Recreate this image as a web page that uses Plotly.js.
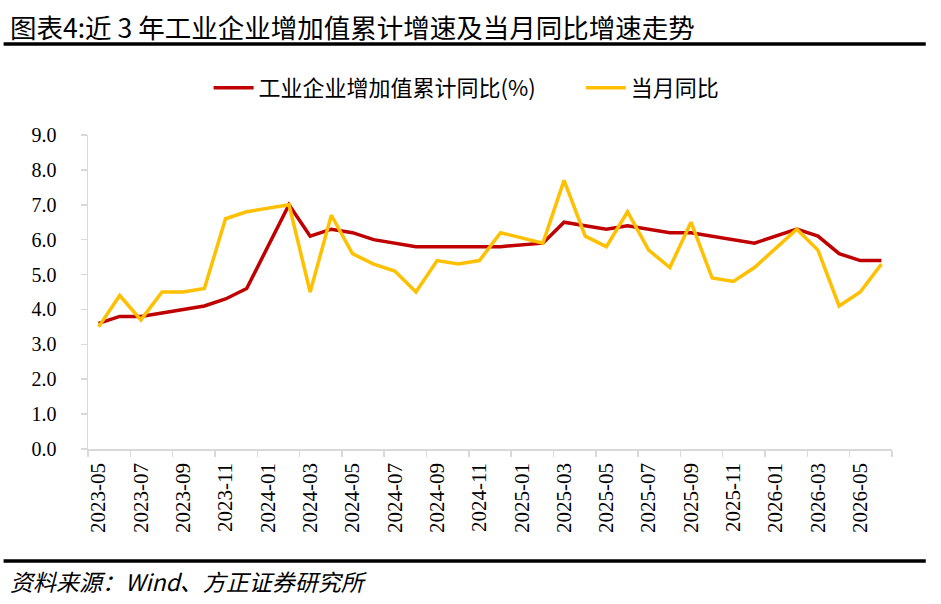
<!DOCTYPE html>
<html>
<head>
<meta charset="utf-8">
<script src="https://cdn.plot.ly/plotly-3.0.1.min.js"></script>
<style>
  html, body { margin: 0; padding: 0; background: #fff; }
  #chart { width: 941px; height: 604px; }
</style>
</head>
<body>
<div id="chart"></div>
<script>
// 月份 (1月数据缺失, 与2月合并公布)
let months = [
  "2023-05", "2023-06", "2023-07", "2023-08", "2023-09", "2023-10", "2023-11", "2023-12",
  "2024-01", "2024-02", "2024-03", "2024-04", "2024-05", "2024-06", "2024-07", "2024-08",
  "2024-09", "2024-10", "2024-11", "2024-12", "2025-01", "2025-02", "2025-03", "2025-04",
  "2025-05", "2025-06", "2025-07", "2025-08", "2025-09", "2025-10", "2025-11", "2025-12",
  "2026-01", "2026-02", "2026-03", "2026-04", "2026-05", "2026-06"
];

let cumulative = [
  3.6, 3.8, 3.8, 3.9, 4.0, 4.1, 4.3, 4.6,
  null, 7.0, 6.1, 6.3, 6.2, 6.0, 5.9, 5.8,
  5.8, 5.8, 5.8, 5.8, null, 5.9, 6.5, 6.4,
  6.3, 6.4, 6.3, 6.2, 6.2, 6.1, 6.0, 5.9,
  null, 6.3, 6.1, 5.6, 5.4, 5.4
];

let monthly = [
  3.5, 4.4, 3.7, 4.5, 4.5, 4.6, 6.6, 6.8,
  null, 7.0, 4.5, 6.7, 5.6, 5.3, 5.1, 4.5,
  5.4, 5.3, 5.4, 6.2, null, 5.9, 7.7, 6.1,
  5.8, 6.8, 5.7, 5.2, 6.5, 4.9, 4.8, 5.2,
  null, 6.3, 5.7, 4.1, 4.5, 5.3
];

let axis_color = "#d9d9d9";
let serif = "'Liberation Serif', 'Times New Roman', serif";
let cjk = "'Noto Sans CJK SC', sans-serif";

let first = {
  x: months,
  y: cumulative,
  mode: 'lines',
  connectgaps: true,
  name: '工业企业增加值累计同比(%)',
  line: {color: '#c00000', width: 3.5},
  legend: 'legend',
  hoverinfo: 'skip'
};

let second = {
  x: months,
  y: monthly,
  mode: 'lines',
  connectgaps: true,
  name: '当月同比',
  line: {color: '#ffc000', width: 3.5},
  legend: 'legend2',
  hoverinfo: 'skip'
};

let legend_font = {family: cjk, size: 22, color: '#000'};

let layout = {
  width: 941,
  height: 604,
  margin: {l: 88, r: 49, t: 135, b: 155, pad: 0},
  paper_bgcolor: '#fff',
  plot_bgcolor: '#fff',
  showlegend: true,
  legend: {
    orientation: 'h',
    x: 0.15,
    xanchor: 'left',
    y: 1.15,
    yanchor: 'middle',
    font: legend_font,
    itemwidth: 40
  },
  legend2: {
    orientation: 'h',
    x: 0.613,
    xanchor: 'left',
    y: 1.15,
    yanchor: 'middle',
    font: legend_font,
    itemwidth: 40
  },
  xaxis: {
    type: 'category',
    range: [-0.5, 37.5],
    tickson: 'boundaries',
    dtick: 2,
    tickangle: -90,
    ticks: 'outside',
    ticklen: 6,
    tickcolor: axis_color,
    tickwidth: 1.5,
    ticklabelstandoff: 4,
    showline: true,
    linecolor: axis_color,
    linewidth: 1.5,
    showgrid: false,
    zeroline: false,
    tickfont: {family: serif, size: 21, color: '#000'}
  },
  yaxis: {
    range: [0, 9],
    dtick: 1,
    tickformat: '.1f',
    ticks: 'outside',
    ticklen: 6,
    tickcolor: axis_color,
    tickwidth: 1.5,
    ticklabelstandoff: 20,
    showline: true,
    linecolor: axis_color,
    linewidth: 1.5,
    showgrid: false,
    zeroline: false,
    tickfont: {family: serif, size: 20, color: '#000'}
  },
  shapes: [
    {type: 'line', xref: 'paper', yref: 'paper', x0: -0.105, x1: 1.042, y0: 1.29, y1: 1.29,
     line: {color: '#000', width: 3.5}},
    {type: 'line', xref: 'paper', yref: 'paper', x0: -0.105, x1: 1.042, y0: -0.357, y1: -0.357,
     line: {color: '#000', width: 3.5}}
  ],
  annotations: [
    {text: '图表4:近 3 年工业企业增加值累计增速及当月同比增速走势', xref: 'paper', yref: 'paper',
     x: -0.1, y: 1.344, xanchor: 'left', yanchor: 'middle', showarrow: false,
     font: {family: cjk, size: 26.5, color: '#000'}},
    {text: '<i>资料来源：Wind、方正证券研究所</i>', xref: 'paper', yref: 'paper',
     x: -0.1, y: -0.42, xanchor: 'left', yanchor: 'middle', showarrow: false,
     font: {family: cjk, size: 23, color: '#000'}}
  ]
};

Plotly.newPlot('chart', [first, second], layout, {displayModeBar: false, staticPlot: true});
</script>
</body>
</html>
